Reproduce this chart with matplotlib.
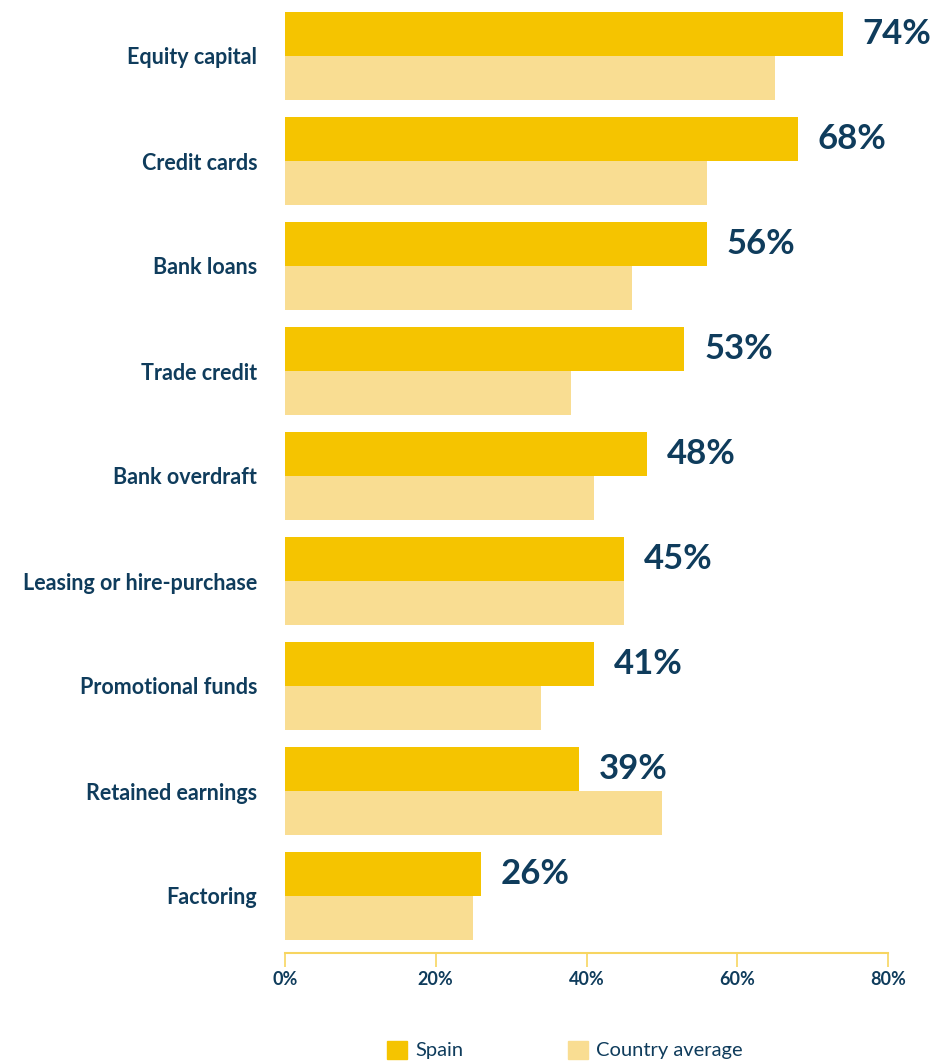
import matplotlib
matplotlib.use("Agg")
import matplotlib.pyplot as plt
from matplotlib.patches import Patch

categories = ["Equity capital", "Credit cards", "Bank loans", "Trade credit", "Bank overdraft",
              "Leasing or hire-purchase", "Promotional funds", "Retained earnings", "Factoring"]
spain = [74, 68, 56, 53, 48, 45, 41, 39, 26]
country_avg = [65, 56, 46, 38, 41, 45, 34, 50, 25]
xticks = [0, 20, 40, 60, 80]
xtick_labels = ["0%", "20%", "40%", "60%", "80%"]
series_names = ["Spain", "Country average"]

C_SPAIN = "#F5C400"
C_AVG = "#F9DD92"
C_TEXT = "#0F3C5C"
C_AXIS = "#F7D560"
FONT = "Lato"

W, H = 936, 1062
fig = plt.figure(figsize=(W / 100, H / 100), dpi=100)
left, right = 285 / W, 888 / W
top_px, bot_px = 5, 953
ax = fig.add_axes([left, 1 - bot_px / H, right - left, (bot_px - top_px) / H])

bh = 0.42
ys = list(range(len(categories)))
ax.barh([y - bh / 2 for y in ys], spain, height=bh, color=C_SPAIN, linewidth=0)
ax.barh([y + bh / 2 for y in ys], country_avg, height=bh, color=C_AVG, linewidth=0)

for y, v in zip(ys, spain):
    ax.text(v + 2.6, y - bh / 2 - 0.0, f"{v}%", ha="left", va="center",
            fontsize=25, fontweight="bold", color=C_TEXT, family=FONT)

ax.set_xlim(0, 80)
ax.set_ylim((bot_px - 56) / 105, (top_px - 56) / 105)
ax.set_yticks(ys)
ax.set_yticklabels(categories, fontsize=15.5, fontweight="bold", color=C_TEXT, family=FONT)
ax.tick_params(axis="y", length=0, pad=20)
ax.set_xticks(xticks)
ax.set_xticklabels(xtick_labels, fontsize=13, fontweight="bold", color=C_TEXT, family=FONT)
ax.tick_params(axis="x", length=10, width=1.2, color=C_AXIS, pad=3)
for s in ["top", "right", "left"]:
    ax.spines[s].set_visible(False)
ax.spines["bottom"].set_color(C_AXIS)
ax.spines["bottom"].set_linewidth(1.5)

handles = [Patch(color=C_SPAIN), Patch(color=C_AVG)]
leg = fig.legend(handles, series_names, loc="center", bbox_to_anchor=(565 / W, 1 - 1050 / H),
                 ncol=2, frameon=False, handlelength=1.0, handleheight=1.0, handletextpad=0.4,
                 columnspacing=5.2, prop={"family": FONT, "size": 14.5})
for t in leg.get_texts():
    t.set_color(C_TEXT)

fig.savefig("out.png", dpi=100)
